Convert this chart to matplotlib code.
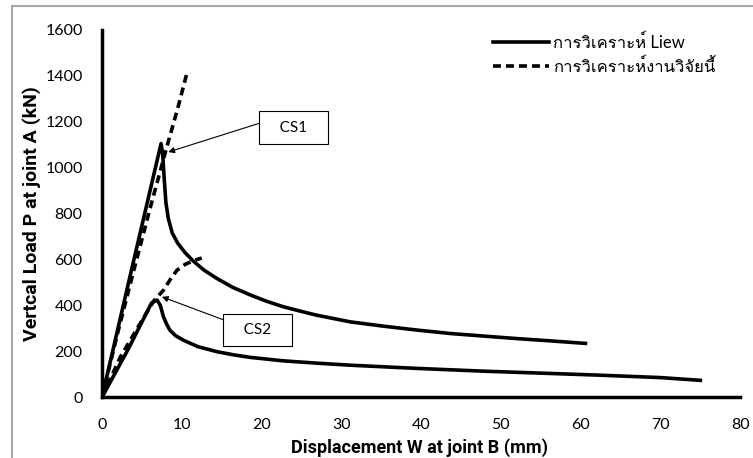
import matplotlib.pyplot as plt
from matplotlib import font_manager
from matplotlib.ft2font import FT2Font
from matplotlib.patches import Rectangle

# CS1 - Liew analysis (solid)
cs1_liew_x = [0, 3.5, 7.4, 7.6, 7.8, 8.0, 8.3, 8.8, 9.5, 10.4, 11.4, 12.8, 14.4, 16.4,
              18.6, 20.6, 22.7, 24.8, 26.9, 31.1, 35.3, 39.5, 43.7, 47.8, 52.0, 56.2, 60.6]
cs1_liew_y = [0, 525, 1105, 1060, 950, 850, 780, 715, 670, 630, 594, 553, 517, 478,
              445, 418, 394, 375, 357, 328, 309, 292, 277, 266, 255, 245, 234]
# CS1 - this research (dashed)
cs1_this_x = [0, 2, 4, 6, 8.2, 9.5, 10.7]
cs1_this_y = [0, 285, 555, 820, 1100, 1260, 1420]
# CS2 - Liew analysis (solid)
cs2_liew_x = [0, 3.3, 6.2, 6.9, 7.3, 7.7, 8.1, 8.5, 9.2, 10.2, 12.0, 14.4, 16.5, 18.6,
              22.7, 26.9, 31.1, 35.3, 39.5, 47.8, 56.2, 62, 70, 75]
cs2_liew_y = [0, 210, 410, 423, 400, 350, 318, 292, 268, 248, 220, 198, 184, 173,
              158, 148, 139, 132, 125, 113, 103, 96, 85, 73]
# CS2 - this research (dashed)
cs2_this_x = [0, 2.3, 4.8, 6.5, 7.7, 8.6, 9.4, 10.4, 11.4, 12.5]
cs2_this_y = [0, 175, 322, 420, 466, 515, 553, 578, 594, 606]

x_ticks = [0, 10, 20, 30, 40, 50, 60, 70, 80]
y_ticks = [0, 200, 400, 600, 800, 1000, 1200, 1400, 1600]

legend_labels = ["การวิเคราะห์ Liew", "การวิเคราะห์งานวิจัยนี้"]


def thai_fonts():
    names = []
    for f in font_manager.fontManager.ttflist:
        try:
            if FT2Font(f.fname).get_char_index(ord("ก")) and f.name not in names:
                names.append(f.name)
        except Exception:
            pass
    return names


fams = ["Lato"] + thai_fonts() + ["DejaVu Sans"]
plt.rcParams["font.family"] = fams

fig = plt.figure(figsize=(7.53, 4.58), dpi=100)
ax = fig.add_axes([0.1355, 0.133, 0.8475, 0.8015])

lw = 2.6
dash = (0, (2.2, 1.4))
ax.plot(cs1_liew_x, cs1_liew_y, color="black", lw=lw, label=legend_labels[0])
ax.plot(cs1_this_x, cs1_this_y, color="black", lw=lw, ls=dash, label=legend_labels[1])
ax.plot(cs2_liew_x, cs2_liew_y, color="black", lw=lw)
ax.plot(cs2_this_x, cs2_this_y, color="black", lw=lw, ls=dash)

ax.set_xlim(0, 80)
ax.set_ylim(0, 1600)
ax.set_xticks(x_ticks)
ax.set_yticks(y_ticks)
ax.tick_params(length=0, labelsize=11.5)
ax.tick_params(axis="y", pad=14)
ax.tick_params(axis="x", pad=15)
for s in ["top", "right"]:
    ax.spines[s].set_visible(False)
for s in ["left", "bottom"]:
    ax.spines[s].set_linewidth(2.5)

ax.set_xlabel("Displacement W at joint B (mm)", family="Roboto", fontsize=13, fontweight="bold")
ax.xaxis.set_label_coords(0.498, -0.112)
ax.set_ylabel("Vertcal Load P at joint A (kN)", family="Roboto", fontsize=14, fontweight="bold")
ax.yaxis.set_label_coords(-0.095, 0.5)

box = dict(boxstyle="square,pad=0.6", fc="white", ec="black", lw=0.8)
arrow = dict(arrowstyle="-|>", color="black", lw=0.8, shrinkA=0, shrinkB=0,
             mutation_scale=9, relpos=(0, 1))
ax.annotate("   CS1   ", xy=(8.3, 1068), xytext=(24.0, 1175), fontsize=11, ha="center",
            va="center", bbox=box, arrowprops=arrow)
ax.annotate("   CS2   ", xy=(7.5, 437), xytext=(19.5, 292), fontsize=11, ha="center",
            va="center", bbox=box, arrowprops=arrow)

ax.legend(loc="upper right", bbox_to_anchor=(0.985, 1.03), frameon=False, fontsize=12,
          handlelength=3.4, handletextpad=0.25, labelspacing=0.4)

fig.patches.append(Rectangle((12 / 753, -0.05), 1.1, 1 - 6 / 458 + 0.05, transform=fig.transFigure,
                             fill=False, ec="#a6a6a6", lw=1.5))

fig.savefig("out.png", dpi=100)
